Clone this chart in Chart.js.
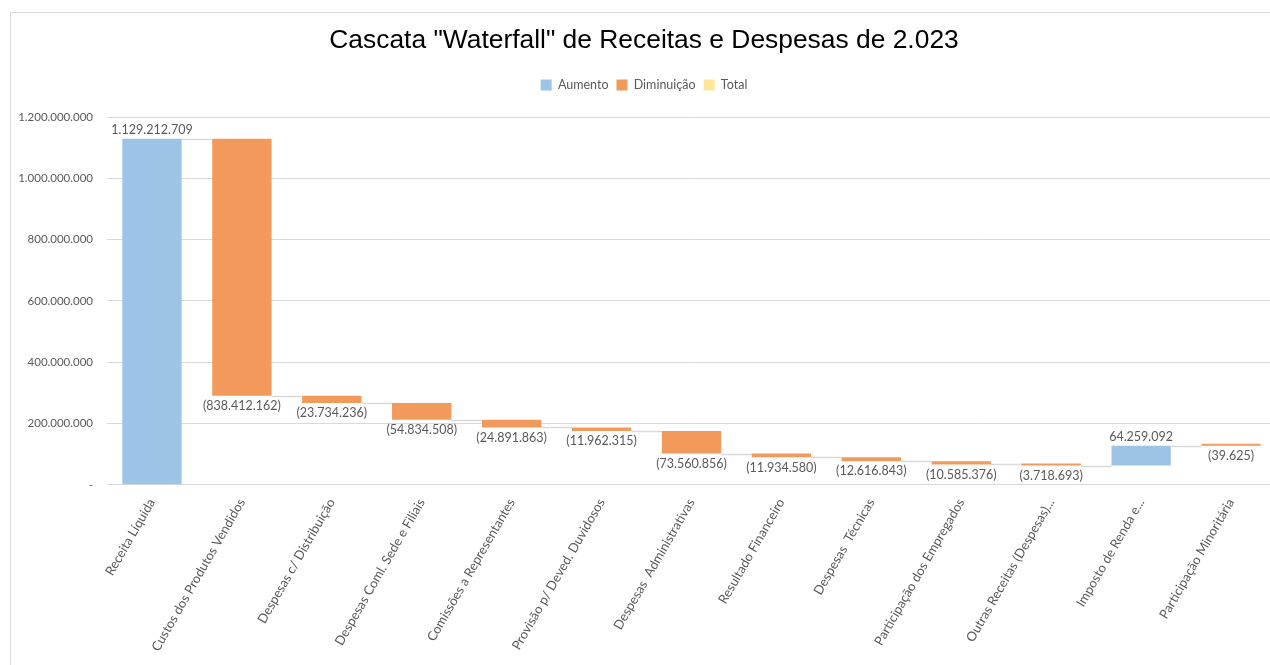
<!DOCTYPE html>
<html>
<head>
<meta charset="utf-8">
<script src="https://cdn.jsdelivr.net/npm/chart.js@4.4.1/dist/chart.umd.min.js"></script>
<style>
    body { margin: 0; background: #fff; overflow: hidden; }
    #frame { position: absolute; left: 10px; top: 12px; width: 1270px; height: 670px; border: 1px solid #d9d9d9; }
    #wrap { position: absolute; left: 0; top: 0; width: 1276px; height: 665px; }
</style>
</head>
<body>
<div id="frame"></div>
<div id="wrap"><canvas id="waterfallChart"></canvas></div>
<script>
const categorias = [
    'Receita Líquida',
    'Custos dos Produtos Vendidos',
    'Despesas c/ Distribuição',
    'Despesas Coml. Sede e Filiais',
    'Comissões a Representantes',
    'Provisão p/ Deved. Duvidosos',
    'Despesas  Administrativas',
    'Resultado Financeiro',
    'Despesas  Técnicas',
    'Participação dos Empregados',
    'Outras Receitas (Despesas)...',
    'Imposto de Renda e...',
    'Participação Minoritária'
];
const valores = [
    1129212709, -838412162, -23734236, -54834508, -24891863, -11962315,
    -73560856, -11934580, -12616843, -10585376, -3718693, 64259092, -39625
];
const yTicks = [0, 200000000, 400000000, 600000000, 800000000, 1000000000, 1200000000];

const corAumento = '#9dc3e6';
const corDiminuicao = '#f19a5b';
const corTotal = '#ffe699';
const corTexto = '#595959';
const fonte = "Lato, 'Open Sans', sans-serif";

function formatar(n) {
    const s = Math.abs(Math.round(n)).toString().replace(/\B(?=(\d{3})+(?!\d))/g, '.');
    return n < 0 ? '(' + s + ')' : s;
}

// running totals -> floating bars
const inicio = [];
const fim = [];
let acumulado = 0;
valores.forEach(function(v) {
    inicio.push(acumulado);
    acumulado += v;
    fim.push(acumulado);
});
const barrasAumento = valores.map((v, i) => v >= 0 ? [inicio[i], fim[i]] : null);
const barrasDiminuicao = valores.map((v, i) => v < 0 ? [fim[i], inicio[i]] : null);
const barrasTotal = valores.map(() => null);

// extra room under the legend
const espacoLegenda = {
    id: 'espacoLegenda',
    beforeInit(chart) {
        const fitOriginal = chart.legend.fit;
        chart.legend.fit = function() {
            fitOriginal.bind(chart.legend)();
            this.height += 16;
        };
    }
};

const conectores = {
    id: 'conectores',
    beforeDatasetsDraw(chart) {
        const ctx = chart.ctx;
        const y = chart.scales.y;
        const metas = [chart.getDatasetMeta(0), chart.getDatasetMeta(1)];
        const barra = i => (valores[i] >= 0 ? metas[0] : metas[1]).data[i];
        ctx.save();
        ctx.strokeStyle = '#d9d9d9';
        ctx.lineWidth = 1.5;
        for (let i = 0; i < valores.length - 1; i++) {
            const a = barra(i), b = barra(i + 1);
            const py = Math.round(y.getPixelForValue(fim[i])) + 0.5;
            ctx.beginPath();
            ctx.moveTo(a.x + a.width / 2, py);
            ctx.lineTo(b.x - b.width / 2, py);
            ctx.stroke();
        }
        ctx.restore();
    }
};

const rotulos = {
    id: 'rotulos',
    afterDatasetsDraw(chart) {
        const ctx = chart.ctx;
        const y = chart.scales.y;
        ctx.save();
        ctx.font = '12.5px ' + fonte;
        ctx.fillStyle = corTexto;
        ctx.textAlign = 'center';
        valores.forEach(function(v, i) {
            const meta = chart.getDatasetMeta(v >= 0 ? 0 : 1);
            const el = meta.data[i];
            if (v >= 0) {
                ctx.textBaseline = 'bottom';
                ctx.fillText(formatar(v), el.x, y.getPixelForValue(fim[i]) - 3);
            } else {
                ctx.textBaseline = 'top';
                ctx.fillText(formatar(v), el.x, y.getPixelForValue(fim[i]) + 4);
            }
        });
        ctx.restore();
    }
};

document.addEventListener('DOMContentLoaded', function() {
    const ctx = document.getElementById('waterfallChart').getContext('2d');
    new Chart(ctx, {
        type: 'bar',
        data: {
            labels: categorias,
            datasets: [
                { label: 'Aumento', data: barrasAumento, backgroundColor: corAumento },
                { label: 'Diminuição', data: barrasDiminuicao, backgroundColor: corDiminuicao, minBarLength: 2 },
                { label: 'Total', data: barrasTotal, backgroundColor: corTotal }
            ]
        },
        options: {
            responsive: true,
            maintainAspectRatio: false,
            animation: false,
            layout: { padding: { left: 12, right: 0, top: 0, bottom: 8 } },
            datasets: { bar: { grouped: false, barPercentage: 0.66, categoryPercentage: 1.0 } },
            plugins: {
                title: {
                    display: true,
                    text: 'Cascata "Waterfall" de Receitas e Despesas de 2.023',
                    color: '#000',
                    font: { family: "'Liberation Sans', Arial, sans-serif", size: 26.4, weight: 'normal' },
                    padding: { top: 25, bottom: 14 }
                },
                legend: {
                    labels: {
                        boxWidth: 11,
                        boxHeight: 11,
                        color: corTexto,
                        font: { family: fonte, size: 12.5 },
                        padding: 8
                    }
                },
                tooltip: { enabled: false }
            },
            scales: {
                x: {
                    grid: { display: false },
                    border: { color: '#d9d9d9' },
                    ticks: {
                        color: corTexto,
                        font: { family: fonte, size: 13 },
                        minRotation: 60,
                        maxRotation: 60,
                        autoSkip: false
                    }
                },
                y: {
                    min: 0,
                    max: 1200000000,
                    afterBuildTicks: axis => { axis.ticks = yTicks.map(v => ({ value: v })); },
                    afterFit: axis => { axis.width = 95; },
                    grid: { color: '#d9d9d9', drawTicks: false },
                    border: { display: false },
                    ticks: {
                        color: corTexto,
                        font: { family: fonte, size: 11.5 },
                        padding: 14,
                        callback: v => v === 0 ? '-' : formatar(v)
                    }
                }
            }
        },
        plugins: [espacoLegenda, conectores, rotulos]
    });
});
</script>
</body>
</html>
